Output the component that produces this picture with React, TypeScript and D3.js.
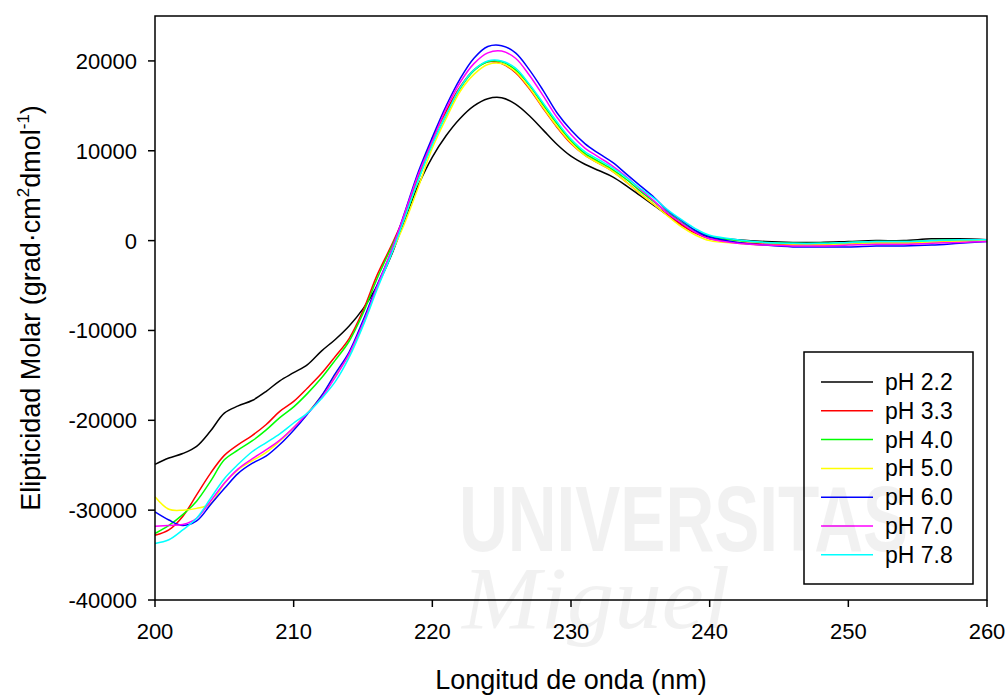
import React from 'react';
import * as d3 from 'd3';

// wavelengths (nm) at which the spectra were read
const wavelengths = [200,201,202,203,204,205,206,207,208,209,210,211,212,213,214,215,216,217,218,219,220,221,222,223,224,225,226,227,228,229,230,231,232,233,234,235,236,237,238,239,240,242,244,246,248,250,252,254,256,258,260];

const ph22 = [-24900,-24200,-23700,-22900,-21200,-19200,-18400,-17800,-16800,-15600,-14700,-13800,-12300,-11000,-9500,-7600,-5100,-1800,2300,6200,9300,11700,13600,15000,15800,15900,15200,13900,12300,10700,9400,8500,7800,7100,6100,5000,3900,2800,1800,900,400,100,-100,-200,-200,-100,0,0,200,200,100];
const ph33 = [-32800,-32200,-30700,-28300,-25900,-23900,-22700,-21700,-20500,-19000,-17900,-16400,-14800,-12900,-10900,-7800,-3900,-700,2800,7200,11300,14400,17100,19000,19900,19700,18700,16900,14700,12600,10800,9500,8600,7700,6500,5200,4000,2800,1700,800,200,-200,-400,-500,-500,-400,-300,-300,-200,-100,0];
const ph40 = [-32600,-31700,-30500,-29000,-26800,-24400,-23300,-22300,-21100,-19700,-18500,-17000,-15300,-13300,-11200,-8100,-4300,-900,2500,6800,10800,14000,16900,18900,19900,19900,19000,17300,15100,13000,11100,9700,8800,7900,6800,5500,4300,3100,2000,1100,500,0,-200,-300,-300,-200,-100,-100,0,100,100];
const ph50 = [-28500,-29900,-30000,-29800,-29300,-27000,-25500,-24500,-23600,-22300,-20800,-19200,-17300,-15000,-12700,-9400,-5300,-1600,1900,6000,10300,13600,16600,18500,19600,19700,18800,17000,14800,12700,10900,9500,8600,7700,6500,5200,4000,2700,1500,600,0,-300,-500,-500,-500,-400,-300,-300,-200,-100,0];
const ph60 = [-30200,-31100,-31700,-31200,-29400,-27600,-25900,-24800,-24000,-22700,-21100,-19300,-17300,-14800,-12400,-8900,-5000,-1400,3100,7700,11500,15000,18000,20300,21600,21700,20900,19000,16700,14200,12300,10800,9700,8700,7400,6100,4800,3300,2200,1100,400,-200,-500,-700,-700,-700,-600,-600,-500,-300,-100];
const ph70 = [-31800,-31700,-31600,-30900,-29000,-27000,-25400,-24300,-23300,-22200,-20800,-19200,-17500,-15200,-12600,-9200,-5200,-1300,3000,7400,11100,14700,17600,19700,20900,21100,20300,18400,16100,13700,11800,10300,9300,8300,7100,5700,4400,3000,1900,900,200,-300,-500,-600,-600,-500,-400,-400,-300,-200,-100];
const ph78 = [-33700,-33300,-32200,-30900,-28700,-26500,-24900,-23500,-22500,-21500,-20300,-19200,-17600,-15700,-13000,-9500,-5500,-1700,2500,6800,10700,14000,17000,19000,20000,20000,19200,17400,15300,13200,11300,9900,9000,8100,7000,5800,4700,3400,2300,1300,600,100,-200,-300,-300,-200,-100,-100,0,100,100];

const seriesLabels = ['pH 2.2','pH 3.3','pH 4.0','pH 5.0','pH 6.0','pH 7.0','pH 7.8'];
const seriesValues = [ph22, ph33, ph40, ph50, ph60, ph70, ph78];
const seriesColors = ['#000000','#ff0000','#00ff00','#ffff00','#0000ff','#ff00ff','#00ffff'];

const xTicks = [200,210,220,230,240,250,260];
const yTicks = [-40000,-30000,-20000,-10000,0,10000,20000];

const W = 1008, H = 695;
const margin = {top: 16, right: 21, bottom: 95, left: 155};
const font = '"Liberation Sans", Arial, sans-serif';

export default function App() {
    const x = d3.scaleLinear().domain([200, 260]).range([margin.left, W - margin.right]);
    const y = d3.scaleLinear().domain([-40000, 25000]).range([H - margin.bottom, margin.top]);

    const line = d3.line<number>()
        .x((d, i) => x(wavelengths[i]))
        .y(d => y(d))
        .curve(d3.curveCatmullRom.alpha(0.5));

    const x0 = x(200), x1 = x(260), yb = y(-40000), yt = margin.top;

    // legend box
    const lg = {left: 804, top: 352, right: 973, bottom: 584, row0: 382, step: 28.8};

    return (
        <svg width={W} height={H} style={{position: 'absolute', left: 0, top: 0, background: '#fff'}}
             fontFamily={font}>
            <rect x={0} y={0} width={W} height={H} fill="#fff" />

            {/* curves */}
            {seriesValues.map((vals, k) => (
                <path key={k} d={line(vals) || ''} fill="none" stroke={seriesColors[k]} strokeWidth={1.5} />
            ))}

            {/* frame */}
            <rect x={x0} y={yt} width={x1 - x0} height={yb - yt} fill="none" stroke="#000" strokeWidth={1.5} />

            {/* x axis */}
            {xTicks.map(t => (
                <g key={t}>
                    <line x1={x(t)} x2={x(t)} y1={yb} y2={yb + 7} stroke="#000" strokeWidth={1.5} />
                    <text x={x(t)} y={yb + 39} fontSize={22} textAnchor="middle">{t}</text>
                </g>
            ))}
            <text x={(x0 + x1) / 2} y={689} fontSize={27} textAnchor="middle">Longitud de onda (nm)</text>

            {/* y axis */}
            {yTicks.map(t => (
                <g key={t}>
                    <line x1={x0 - 7} x2={x0} y1={y(t)} y2={y(t)} stroke="#000" strokeWidth={1.5} />
                    <text x={x0 - 18} y={y(t) + 8} fontSize={22} textAnchor="end">{t}</text>
                </g>
            ))}
            <text transform={`translate(40,${(yt + yb) / 2}) rotate(-90)`} fontSize={27} textAnchor="middle">
                Elipticidad Molar (grad·cm<tspan fontSize={17} dy={-11}>2</tspan><tspan dy={11}>dmol</tspan><tspan fontSize={17} dy={-11}>-1</tspan><tspan dy={11}>)</tspan>
            </text>

            {/* legend */}
            <rect x={lg.left} y={lg.top} width={lg.right - lg.left} height={lg.bottom - lg.top}
                  fill="#fff" stroke="#000" strokeWidth={1.5} />
            {seriesLabels.map((s, k) => (
                <g key={s}>
                    <line x1={821} x2={873} y1={lg.row0 + k * lg.step} y2={lg.row0 + k * lg.step}
                          stroke={seriesColors[k]} strokeWidth={1.5} />
                    <text x={885} y={lg.row0 + k * lg.step + 8} fontSize={23}>{s}</text>
                </g>
            ))}

            {/* faint watermark, laid over everything as in the scan */}
            <g fill="#000" opacity={0.05} style={{pointerEvents: 'none'}}>
                <text x={459} y={551} fontSize={92} fontWeight="bold" textLength={449} lengthAdjust="spacingAndGlyphs">UNIVERSITAS</text>
                <text x={462} y={628} fontSize={88} fontStyle="italic" fontFamily='"Liberation Serif", serif'
                      textLength={268} lengthAdjust="spacingAndGlyphs">Miguel</text>
            </g>
        </svg>
    );
}
